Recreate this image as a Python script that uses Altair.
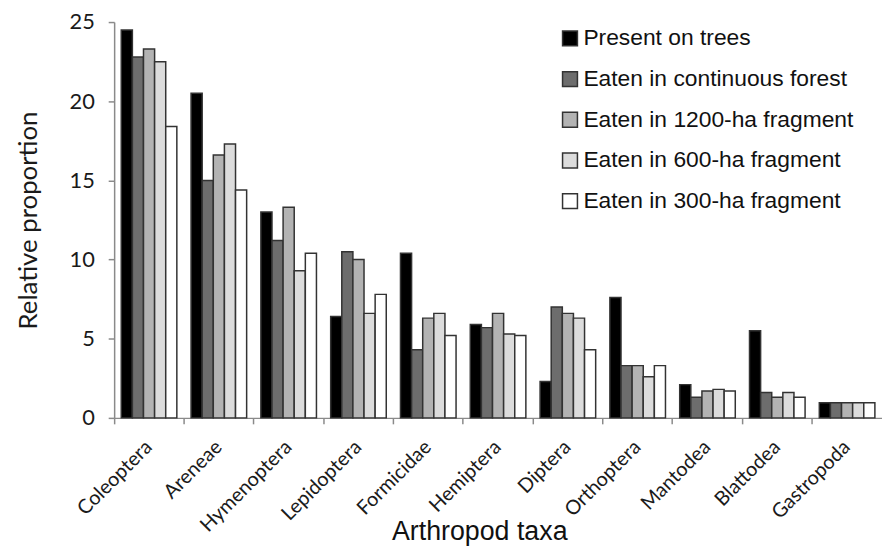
import altair as alt
import pandas as pd

taxa = ["Coleoptera", "Areneae", "Hymenoptera", "Lepidoptera", "Formicidae",
        "Hemiptera", "Diptera", "Orthoptera", "Mantodea", "Blattodea", "Gastropoda"]
series = ["Present on trees", "Eaten in continuous forest", "Eaten in 1200-ha fragment",
          "Eaten in 600-ha fragment", "Eaten in 300-ha fragment"]
present_on_trees = [24.5, 20.5, 13.0, 6.4, 10.4, 5.9, 2.3, 7.6, 2.1, 5.5, 0.95]
eaten_continuous = [22.8, 15.0, 11.2, 10.5, 4.3, 5.7, 7.0, 3.3, 1.3, 1.6, 0.95]
eaten_1200 = [23.3, 16.6, 13.3, 10.0, 6.3, 6.6, 6.6, 3.3, 1.7, 1.3, 0.95]
eaten_600 = [22.5, 17.3, 9.3, 6.6, 6.6, 5.3, 6.3, 2.6, 1.8, 1.6, 0.95]
eaten_300 = [18.4, 14.4, 10.4, 7.8, 5.2, 5.2, 4.3, 3.3, 1.7, 1.3, 0.95]
y_ticks = [0, 5, 10, 15, 20, 25]
colors = ["#000000", "#6d6d6d", "#b3b3b3", "#dcdcdc", "#ffffff"]

values_by_series = [present_on_trees, eaten_continuous, eaten_1200, eaten_600, eaten_300]
rows = []
for s, vals in zip(series, values_by_series):
    for t, v in zip(taxa, vals):
        rows.append({"taxon": t, "series": s, "value": v})
df = pd.DataFrame(rows)

W, H = 774, 399

x_scale = alt.Scale(paddingInner=0, paddingOuter=0)

bars = alt.Chart(df).mark_bar(stroke="#333333", strokeWidth=1.5).encode(
    x=alt.X("taxon:N", sort=taxa, scale=x_scale,
            axis=alt.Axis(title="Arthropod taxa", ticks=True, tickSize=6,
                          tickColor="#8a8a8a", tickWidth=1.5, bandPosition=0,
                          labelAngle=-45,
                          labelAlign="right", labelBaseline="middle", labelPadding=20,
                          labelFont="Lato", labelFontSize=20, labelColor="#1a1a1a",
                          domainColor="#8a8a8a", domainWidth=1.5,
                          titleFont="Liberation Sans", titleFontSize=27,
                          titleFontWeight="normal", titleColor="#111111",
                          titleX=368, titleY=123, titleBaseline="alphabetic",
                          titleAnchor="middle")),
    xOffset=alt.XOffset("series:N", sort=series,
                        scale=alt.Scale(paddingInner=0, paddingOuter=0.64)),
    y=alt.Y("value:Q", scale=alt.Scale(domain=[0, 25], nice=False),
            axis=alt.Axis(title="Relative proportion", values=y_ticks, grid=False,
                          tickSize=6, tickColor="#8a8a8a", tickWidth=1.5,
                          domainColor="#8a8a8a", domainWidth=1.5, labelPadding=14,
                          labelFont="Lato", labelFontSize=22, labelColor="#1a1a1a",
                          titleFont="Lato", titleFontSize=26, titleFontWeight="normal",
                          titleColor="#1a1a1a", titleX=-86, titleY=H / 2,
                          titleAlign="center", titleBaseline="middle", titleAngle=-90)),
    fill=alt.Fill("series:N", sort=series,
                  scale=alt.Scale(domain=series, range=colors),
                  legend=alt.Legend(title=None, orient="none", legendX=448, legendY=5,
                                    symbolType="square", symbolSize=225,
                                    symbolStrokeColor="#333333", symbolStrokeWidth=1.5,
                                    labelFont="Liberation Sans", labelFontSize=23,
                                    labelColor="#111111", labelOffset=2,
                                    rowPadding=17, labelLimit=400)),
)

chart = bars.properties(
    width=W, height=H,
    padding={"left": 107, "top": 12, "right": 0, "bottom": 129},
    autosize="none",
).configure(background="white", view=alt.ViewConfig(strokeWidth=0, stroke="transparent"))

chart.save("out.html", embed_options={"renderer": "svg", "actions": False})
